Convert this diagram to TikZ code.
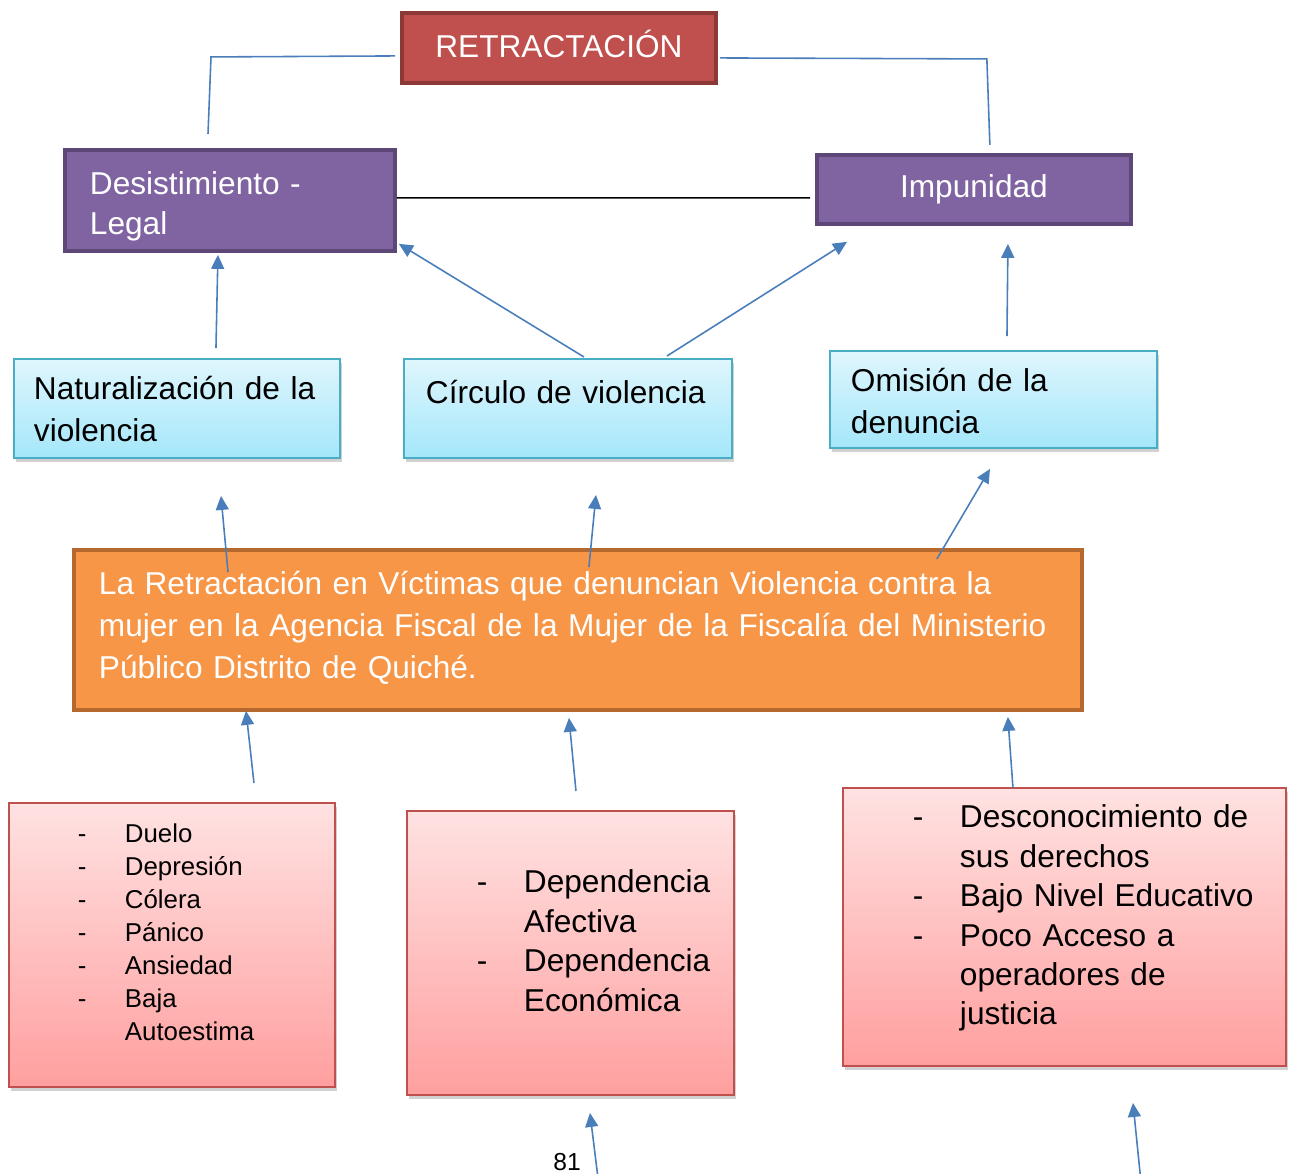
\documentclass[tikz,border=0pt]{standalone}
\usepackage{fontspec}
\setmainfont{Liberation Sans}
\usetikzlibrary{arrows.meta,shadows}

\newdimen\pxu
\pxu=0.02cm
\newcommand\guion{\makebox[47\pxu][l]{-}}
\newcommand\sigue{\hspace*{47\pxu}}

\definecolor{retred}{HTML}{C0504D}
\definecolor{retedge}{HTML}{8C3836}
\definecolor{lila}{HTML}{8064A2}
\definecolor{lilaedge}{HTML}{5C4776}
\definecolor{celtop}{HTML}{DFF6FD}
\definecolor{celbot}{HTML}{A4E7FA}
\definecolor{celedge}{HTML}{4BACC6}
\definecolor{naranja}{HTML}{F79646}
\definecolor{naranjaedge}{HTML}{B5692F}
\definecolor{rosatop}{HTML}{FFE2E2}
\definecolor{rosabot}{HTML}{FF9F9F}
\definecolor{flecha}{HTML}{4A7EBB}

\tikzset{
  box/.style n args={3}{anchor=north west, inner sep=0pt, text width=#1\pxu,
    text height=#2\pxu, text depth=#3\pxu},
  indent/.style={align=left, execute at begin node={\leftskip=#1\pxu\relax}},
  titulo/.style={fill=retred, draw=retedge, line width=2.2pt, text=white,
    align=center, font=\fontsize{18}{22}\selectfont},
  efecto/.style={fill=lila, draw=lilaedge, line width=2.2pt, text=white,
    font=\fontsize{18}{22.7}\selectfont},
  causa/.style={top color=celtop, bottom color=celbot, draw=celedge, line width=1.1pt,
    drop shadow={shadow xshift=0.04cm, shadow yshift=-0.08cm, opacity=.3, fill=black!60},
    font=\fontsize{18}{23.5}\selectfont},
  tema/.style={fill=naranja, draw=naranjaedge, line width=2.2pt, text=white,
    font=\fontsize{18}{23.8}\selectfont},
  factor/.style={top color=rosatop, bottom color=rosabot, draw=retred, line width=1.1pt,
    drop shadow={shadow xshift=0.04cm, shadow yshift=-0.08cm, opacity=.3, fill=black!60},
    font=\fontsize{18}{22.4}\selectfont},
  link/.style={draw=flecha, line width=0.9pt},
  arr/.style={link, -{Triangle[length=0.28cm,width=0.26cm]}},
  plain/.style={draw=black, line width=0.9pt}
}

\begin{document}
\begin{tikzpicture}[x=0.02cm,y=-0.02cm]
        \useasboundingbox (0,0) rectangle (1294,1173);
        %% top
        \node[titulo,box={314}{45}{25}] (ret) at (400,11) {RETRACTACIÓN};
        \node[efecto,box={330}{45}{56},indent=25] (des) at (63,148) {Desistimiento -\\Legal};
        \node[efecto,box={314}{43}{26},align=center] (imp) at (815,153) {Impunidad};
        %% causes
        \node[causa,box={326}{41}{58},indent=20] (nat) at (13,358) {Naturalización de la\\violencia};
        \node[causa,box={328}{45}{54},indent=22] (cir) at (403,358) {Círculo de violencia};
        \node[causa,box={327}{41}{56},indent=21] (omi) at (829,350) {Omisión de la\\denuncia};
        %% problem
        \node[tema,box={1008}{45}{115},indent=25] (ori) at (72,548)
            {La Retractación en Víctimas que denuncian Violencia contra la\\
             mujer en la Agencia Fiscal de la Mujer de la Fiscalía del Ministerio\\
             Público Distrito de Quiché.};
        %% factors
        \node[factor,box={326}{40}{244},indent=69,font=\fontsize{14.7}{18.7}\selectfont] (p1) at (8,802)
            {\guion Duelo\\ \guion Depresión\\ \guion Cólera\\ \guion Pánico\\
             \guion Ansiedad\\ \guion Baja\\ \sigue Autoestima};
        \node[factor,box={327}{82}{202},indent=70] (p2) at (406,810)
            {\guion Dependencia\\ \sigue Afectiva\\ \guion Dependencia\\ \sigue Económica};
        \node[factor,box={443}{40}{238},indent=70] (p3) at (842,787)
            {\guion Desconocimiento de\\ \sigue sus derechos\\ \guion Bajo Nivel Educativo\\
             \guion Poco Acceso a\\ \sigue operadores de\\ \sigue justicia};
        \node[font=\fontsize{14}{16}\selectfont,anchor=base,inner sep=1pt] (pagina) at (567,1170) {81};
        %% links
        \draw[link] ([shift={(-5,8)}]ret.west) -- ++(-184,1) -- ++(-3,77);
        \draw[link] ([shift={(2,10)}]ret.east) -- ++(267,1) -- ++(3,86);
        \draw[plain] ([shift={(0,-2.5)}]des.east) -- ([shift={(-5,8.5)}]imp.west);
        %% arrows
        \draw[arr] ([shift={(39,-10)}]nat.north) -- ([shift={(-12,2)}]des.south);
        \draw[arr] ([shift={(16,-1)}]cir.north) -- ([shift={(2,-9)}]des.south east);
        \draw[arr] ([shift={(99,-2)}]cir.north) -- ([shift={(32,16)}]imp.south west);
        \draw[arr] ([shift={(13.5,-14)}]omi.north) -- ([shift={(34,18)}]imp.south);
        \draw[arr] ([shift={(156,24)}]ori.north west) -- ([shift={(44,37)}]nat.south);
        \draw[arr] ([shift={(11,19)}]ori.north) -- ([shift={(28,36)}]cir.south);
        \draw[arr] ([shift={(-147,11)}]ori.north east) -- ([shift={(-3.5,20)}]omi.south);
        \draw[arr] ([shift={(82,-19)}]p1.north) -- ([shift={(174,-1)}]ori.south west);
        \draw[arr] ([shift={(5.5,-19)}]p2.north) -- ([shift={(-9,6)}]ori.south);
        \draw[arr] ([shift={(-51.5,1)}]p3.north) -- ([shift={(-76,5)}]ori.south east);
        \draw[arr] ([shift={(28,86)}]p2.south) -- ([shift={(19.5,17)}]p2.south);
        \draw[arr] ([shift={(76.5,115)}]p3.south) -- ([shift={(68.5,36)}]p3.south);
\end{tikzpicture}
\end{document}
